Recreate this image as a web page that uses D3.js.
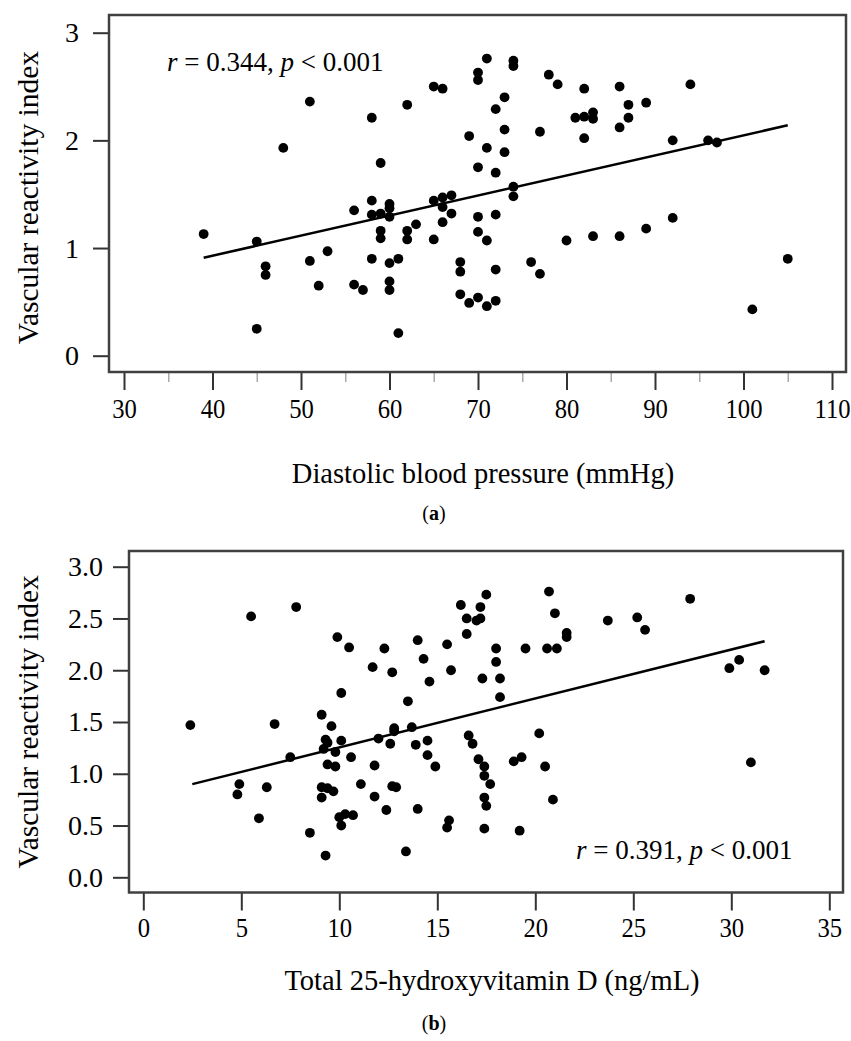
<!DOCTYPE html>
<html>
<head>
<meta charset="utf-8">
<script src="https://cdn.jsdelivr.net/npm/d3@7"></script>
<style>
  body { margin: 0; background: #fff; }
  svg text { font-family: "Liberation Serif", "DejaVu Serif", serif; fill: #000; }
</style>
</head>
<body>
<div id="chart"></div>
<script>
// panel (a): diastolic blood pressure vs vascular reactivity index
const dbpValues = [39,45,45,46,46,48,51,51,52,53,56,56,57,58,58,58,58,59,59,59,59,60,60,60,60,60,60,61,61,62,62,62,63,65,65,65,66,66,66,66,67,67,68,68,68,69,69,70,70,70,70,70,70,71,71,71,71,72,72,72,72,72,73,73,73,74,74,74,74,76,77,77,78,79,80,81,82,82,82,83,83,83,86,86,86,87,87,89,89,92,92,94,96,97,101,105];
const vriA = [1.13,1.06,0.25,0.83,0.75,1.93,2.36,0.88,0.65,0.97,1.35,0.66,0.61,2.21,1.44,1.31,0.90,1.79,1.32,1.16,1.09,1.41,1.37,1.29,0.86,0.69,0.61,0.90,0.21,2.33,1.16,1.08,1.22,2.50,1.44,1.08,2.48,1.47,1.38,1.24,1.49,1.32,0.87,0.78,0.57,2.04,0.49,2.63,2.56,1.75,1.29,1.15,0.54,2.76,1.93,1.07,0.46,2.29,1.70,1.31,0.80,0.51,2.40,2.10,1.89,2.74,2.69,1.57,1.48,0.87,2.08,0.76,2.61,2.52,1.07,2.21,2.48,2.22,2.02,2.26,2.20,1.11,2.50,2.12,1.11,2.33,2.21,2.35,1.18,2.00,1.28,2.52,2.00,1.98,0.43,0.90];
const fitA = [[39, 0.91], [105, 2.14]];
const xTicksA = [30,40,50,60,70,80,90,100,110];
const xMinorA = [35,45,55,65,75,85,95,105];
const yTicksA = [0,1,2,3];

// panel (b): total 25-hydroxyvitamin D vs vascular reactivity index
const vitD = [5.5,7.8,9.9,10.5,12.3,11.7,12.7,14.0,14.3,14.6,15.5,15.7,16.2,16.5,16.5,10.1,13.5,9.1,17.0,17.2,17.2,17.5,18.0,18.0,17.3,18.2,18.2,19.5,20.7,21.0,20.6,21.1,21.6,21.6,23.7,25.2,25.6,27.9,29.9,30.4,31.7,2.4,6.7,7.5,4.9,4.8,6.3,5.9,8.5,9.3,9.6,9.3,9.4,9.2,10.1,9.8,10.6,9.4,9.8,9.1,9.4,9.1,9.7,11.1,10.0,10.3,10.7,10.1,12.0,11.8,12.6,12.8,12.8,13.7,11.8,12.7,12.9,12.4,13.4,13.9,14.5,14.5,14.9,14.0,15.6,15.5,16.6,16.8,17.1,17.4,17.4,17.7,17.4,17.5,17.4,18.9,19.3,19.2,20.2,20.5,20.9,31.0];
const vriB = [2.52,2.61,2.32,2.22,2.21,2.03,1.98,2.29,2.11,1.89,2.25,2.00,2.63,2.50,2.35,1.78,1.70,1.57,2.48,2.50,2.61,2.73,2.21,2.08,1.92,1.92,1.74,2.21,2.76,2.55,2.21,2.21,2.36,2.32,2.48,2.51,2.39,2.69,2.02,2.10,2.00,1.47,1.48,1.16,0.90,0.80,0.87,0.57,0.43,0.21,1.46,1.33,1.30,1.24,1.32,1.21,1.16,1.09,1.07,0.87,0.86,0.77,0.83,0.90,0.58,0.61,0.60,0.50,1.34,1.08,1.29,1.44,1.41,1.45,0.78,0.88,0.87,0.65,0.25,1.28,1.32,1.18,1.07,0.66,0.55,0.48,1.37,1.29,1.14,1.07,0.98,0.90,0.77,0.69,0.47,1.12,1.16,0.45,1.39,1.07,0.75,1.11];
const fitB = [[2.5, 0.90], [31.7, 2.28]];
const xTicksB = [0,5,10,15,20,25,30,35];
const yTicksB = [0,0.5,1,1.5,2,2.5,3];

const width = 851, height = 1041;

const svg = d3.select("#chart").append("svg")
  .attr("width", width)
  .attr("height", height);

svg.append("rect").attr("width", width).attr("height", height).attr("fill", "#fff");

function drawPanel(cfg) {
  const g = svg.append("g");
  const x = d3.scaleLinear().domain(cfg.xDomain).range(cfg.xRange);
  const y = d3.scaleLinear().domain([0, 3]).range(cfg.yRange);
  const box = cfg.box;

  // axes (ticks outside the frame)
  const xAxis = g.append("g")
    .attr("transform", `translate(0,${box.bottom})`)
    .call(d3.axisBottom(x).tickValues(cfg.xTicks).tickSize(18).tickPadding(cfg.xPad).tickFormat(d3.format("d")));
  xAxis.select(".domain").remove();
  xAxis.selectAll("line").attr("stroke", "#333").attr("stroke-width", 2);
  // narrow, tall digits like the original typeface
  xAxis.selectAll("text").attr("font-size", 28).attr("fill", "#000").attr("dy", "0.72em")
    .attr("transform", "scale(0.88,1)");

  if (cfg.xMinor) {
    const minor = g.append("g")
      .attr("transform", `translate(0,${box.bottom})`)
      .call(d3.axisBottom(x).tickValues(cfg.xMinor).tickSize(10).tickFormat(""));
    minor.select(".domain").remove();
    minor.selectAll("line").attr("stroke", "#aaa").attr("stroke-width", 1.5);
  }

  const yAxis = g.append("g")
    .attr("transform", `translate(${box.left},0)`)
    .call(d3.axisLeft(y).tickValues(cfg.yTicks).tickSize(16).tickPadding(cfg.yPad).tickFormat(cfg.yFormat));
  yAxis.select(".domain").remove();
  yAxis.selectAll("line").attr("stroke", "#333").attr("stroke-width", 2);
  yAxis.selectAll("text").attr("font-size", 28).attr("fill", "#000");

  // frame
  g.append("rect")
    .attr("x", box.left).attr("y", box.top)
    .attr("width", box.right - box.left).attr("height", box.bottom - box.top)
    .attr("fill", "none").attr("stroke", "#404040").attr("stroke-width", 2.5);

  // fitted line
  g.append("line")
    .attr("x1", x(cfg.fit[0][0])).attr("y1", y(cfg.fit[0][1]))
    .attr("x2", x(cfg.fit[1][0])).attr("y2", y(cfg.fit[1][1]))
    .attr("stroke", "#000").attr("stroke-width", 2.5);

  // points
  g.selectAll("circle")
    .data(cfg.xs.map((v, i) => [v, cfg.ys[i]]))
    .enter().append("circle")
    .attr("cx", d => x(d[0]))
    .attr("cy", d => y(d[1]))
    .attr("r", 4.9)
    .attr("fill", "#000");

  // correlation note
  const note = g.append("text")
    .attr("x", cfg.note.x).attr("y", cfg.note.y)
    .attr("font-size", 27);
  note.append("tspan").attr("font-style", "italic").text("r");
  note.append("tspan").text(` = ${cfg.r}, `);
  note.append("tspan").attr("font-style", "italic").text("p");
  note.append("tspan").text(" < 0.001");

  // axis titles
  g.append("text")
    .attr("x", cfg.xTitleX).attr("y", cfg.xTitleY)
    .attr("text-anchor", "middle").attr("font-size", 28.5)
    .text(cfg.xTitle);

  g.append("text")
    .attr("transform", `translate(38,${(box.top + box.bottom) / 2 + cfg.yTitleShift}) rotate(-90)`)
    .attr("text-anchor", "middle").attr("font-size", 29.5)
    .text("Vascular reactivity index");

  // panel caption
  const cap = g.append("text")
    .attr("x", 434).attr("y", cfg.capY)
    .attr("text-anchor", "middle").attr("font-size", 20);
  cap.append("tspan").text("(");
  cap.append("tspan").attr("font-weight", "bold").text(cfg.label);
  cap.append("tspan").text(")");
}

drawPanel({
  xs: dbpValues, ys: vriA, fit: fitA,
  xDomain: [30, 110], xRange: [124, 832], yRange: [355.7, 32.7],
  box: { left: 109, top: 15, right: 846, bottom: 372 },
  xTicks: xTicksA, xMinor: xMinorA, yTicks: yTicksA, xPad: 8,
  yFormat: d3.format("d"), yPad: 14,
  r: "0.344", note: { x: 167, y: 71 },
  xTitle: "Diastolic blood pressure (mmHg)", xTitleX: 483, xTitleY: 483,
  yTitleShift: 4, capY: 520, label: "a"
});

drawPanel({
  xs: vitD, ys: vriB, fit: fitB,
  xDomain: [0, 35], xRange: [143.3, 829.3], yRange: [877.3, 566.7],
  box: { left: 129, top: 551, right: 843, bottom: 892.5 },
  xTicks: xTicksB, xMinor: null, yTicks: yTicksB, xPad: 6,
  yFormat: d3.format(".1f"), yPad: 10,
  r: "0.391", note: { x: 576, y: 859 },
  xTitle: "Total 25-hydroxyvitamin D (ng/mL)", xTitleX: 492, xTitleY: 990,
  yTitleShift: 0, capY: 1030, label: "b"
});
</script>
</body>
</html>
